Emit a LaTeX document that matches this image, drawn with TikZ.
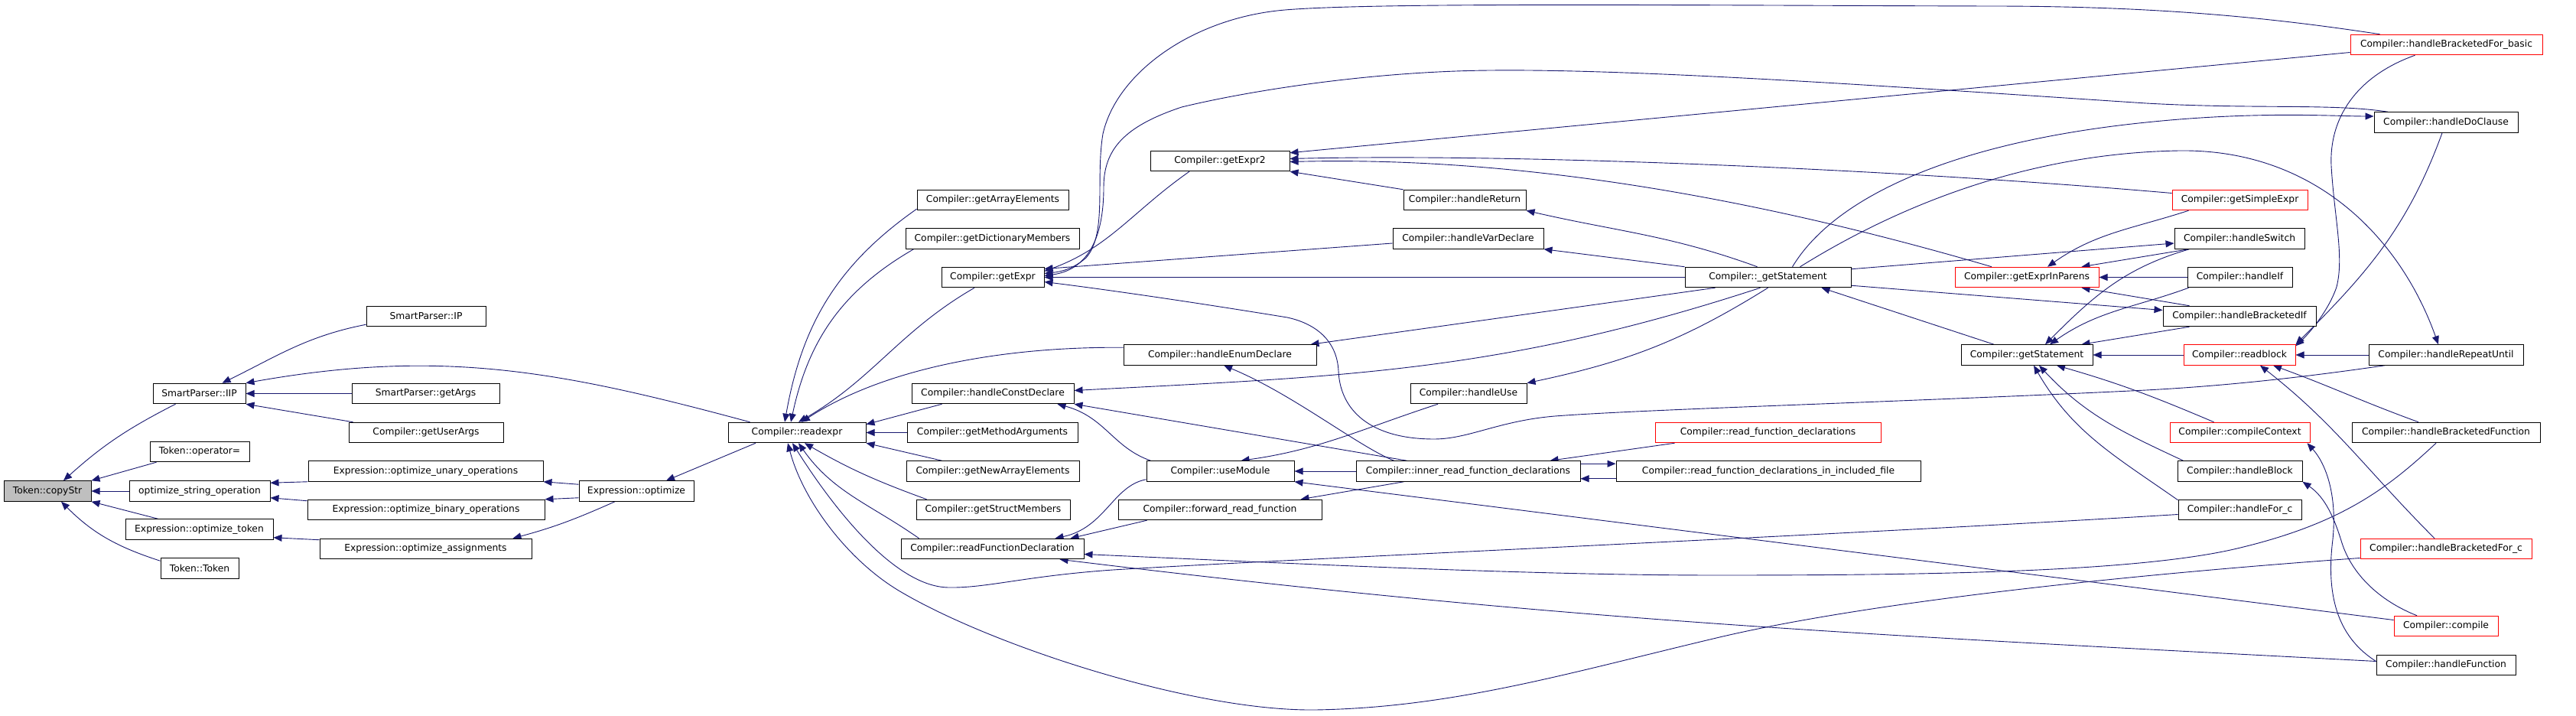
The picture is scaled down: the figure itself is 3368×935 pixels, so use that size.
\documentclass[tikz,border=0pt]{standalone}
\usepackage{fontspec}
\setmainfont{DejaVu Sans}
\usetikzlibrary{arrows.meta}
\pgfdeclarelayer{background}
\pgfsetlayers{background,main}
\definecolor{edgecol}{HTML}{191970}
\definecolor{rootfill}{HTML}{BFBFBF}
\begin{document}
\begin{tikzpicture}[x=1pt,y=1pt,
  fn/.style={draw=black, line width=1pt, inner sep=0pt, minimum height=26.5pt, fill=white,
             font=\fontsize{12.3}{14}\selectfont},
  fnred/.style={fn, draw=red},
  fnroot/.style={fn, fill=rootfill},
  conn/.style={draw=edgecol, line width=0.9pt, -{Triangle[length=11pt,width=9pt]}}]
\useasboundingbox (0,0) rectangle (3368,935);

% ---------------- nodes ----------------
\node[fnroot, minimum width=114pt] (copyStr) at (62,293) {Token::copyStr};
\node[fn, minimum width=121pt] (IIP) at (260.5,420.5) {SmartParser::IIP};
\node[fn, minimum width=130pt] (opEq) at (261,344.5) {Token::operator=};
\node[fn, minimum width=184pt] (optStr) at (261,293) {optimize\_string\_operation};
\node[fn, minimum width=193pt] (optTok) at (260.5,243) {Expression::optimize\_token};
\node[fn, minimum width=102pt] (tokTok) at (261,192) {Token::Token};
\node[fn, minimum width=156pt] (IP) at (557,521.5) {SmartParser::IP};
\node[fn, minimum width=193pt] (getArgs) at (556.5,420.5) {SmartParser::getArgs};
\node[fn, minimum width=202pt] (getUserArgs) at (557,369.5) {Compiler::getUserArgs};
\node[fn, minimum width=307pt] (unary) at (556.5,319) {Expression::optimize\_unary\_operations};
\node[fn, minimum width=310pt] (binary) at (557,268.5) {Expression::optimize\_binary\_operations};
\node[fn, minimum width=277pt] (assign) at (556.5,217.5) {Expression::optimize\_assignments};
\node[fn, minimum width=150pt] (optimize) at (832,293) {Expression::optimize};
\node[fn, minimum width=180pt] (readexpr) at (1042,369.5) {Compiler::readexpr};
\node[fn, minimum width=198pt] (getArrayElements) at (1298,673.5) {Compiler::getArrayElements};
\node[fn, minimum width=227pt] (getDictionaryMembers) at (1297.5,623) {Compiler::getDictionaryMembers};
\node[fn, minimum width=134pt] (getExpr) at (1298,572.5) {Compiler::getExpr};
\node[fn, minimum width=212pt] (handleConstDeclare) at (1298,420.5) {Compiler::handleConstDeclare};
\node[fn, minimum width=223pt] (getMethodArguments) at (1297.5,369.5) {Compiler::getMethodArguments};
\node[fn, minimum width=226pt] (getNewArrayElements) at (1298,319) {Compiler::getNewArrayElements};
\node[fn, minimum width=201pt] (getStructMembers) at (1298.5,268.5) {Compiler::getStructMembers};
\node[fn, minimum width=239pt] (readFunctionDeclaration) at (1297.5,217.5) {Compiler::readFunctionDeclaration};
\node[fn, minimum width=182pt] (getExpr2) at (1595,724.5) {Compiler::getExpr2};
\node[fn, minimum width=252pt] (handleEnumDeclare) at (1595,471) {Compiler::handleEnumDeclare};
\node[fn, minimum width=193pt] (useModule) at (1595.5,319) {Compiler::useModule};
\node[fn, minimum width=266pt] (forward) at (1595,268.5) {Compiler::forward\_read\_function};
\node[fn, minimum width=160pt] (handleReturn) at (1915,673.5) {Compiler::handleReturn};
\node[fn, minimum width=197pt] (handleVarDeclare) at (1919.5,623) {Compiler::handleVarDeclare};
\node[fn, minimum width=152pt] (handleUse) at (1920,420.5) {Compiler::handleUse};
\node[fn, minimum width=293pt] (inner) at (1919.5,319) {Compiler::inner\_read\_function\_declarations};
\node[fn, minimum width=217pt] (uGetStatement) at (2311.5,572.5) {Compiler::\_getStatement};
\node[fnred, minimum width=295pt] (readFD) at (2311.5,369.5) {Compiler::read\_function\_declarations};
\node[fn, minimum width=398pt] (inclFile) at (2312,319) {Compiler::read\_function\_declarations\_in\_included\_file};
\node[fnred, minimum width=188pt] (getExprInParens) at (2650,572.5) {Compiler::getExprInParens};
\node[fn, minimum width=172pt] (getStatement) at (2650,471) {Compiler::getStatement};
\node[fnred, minimum width=177pt] (getSimpleExpr) at (2928.5,673.5) {Compiler::getSimpleExpr};
\node[fn, minimum width=170pt] (handleSwitch) at (2928,623) {Compiler::handleSwitch};
\node[fn, minimum width=137pt] (handleIf) at (2928.5,572.5) {Compiler::handleIf};
\node[fn, minimum width=200pt] (handleBracketedIf) at (2928,521.5) {Compiler::handleBracketedIf};
\node[fnred, minimum width=146pt] (readblock) at (2928,471) {Compiler::readblock};
\node[fnred, minimum width=183pt] (compileContext) at (2928.5,369.5) {Compiler::compileContext};
\node[fn, minimum width=163pt] (handleBlock) at (2928.5,319) {Compiler::handleBlock};
\node[fn, minimum width=161pt] (handleForC) at (2928.5,268.5) {Compiler::handleFor\_c};
\node[fnred, minimum width=251pt] (basic) at (3198.5,876.5) {Compiler::handleBracketedFor\_basic};
\node[fn, minimum width=188pt] (handleDoClause) at (3198,775) {Compiler::handleDoClause};
\node[fn, minimum width=202pt] (handleRepeatUntil) at (3198,471) {Compiler::handleRepeatUntil};
\node[fn, minimum width=246pt] (handleBracketedFunction) at (3198,369.5) {Compiler::handleBracketedFunction};
\node[fnred, minimum width=224pt] (bracketedForC) at (3198,217.5) {Compiler::handleBracketedFor\_c};
\node[fnred, minimum width=136pt] (compile) at (3198,116.5) {Compiler::compile};
\node[fn, minimum width=182pt] (handleFunction) at (3198,65.5) {Compiler::handleFunction};

% ---------------- edges ----------------
\begin{pgfonlayer}{background}
% into Token::copyStr
\draw[conn] ([xshift=30pt]IIP.south west) to[out=207,in=42] ([xshift=21pt]copyStr.north);
\draw[conn] ([xshift=9pt]opEq.south west) -- (copyStr.north east);
\draw[conn] (optStr.west) -- (copyStr.east);
\draw[conn] ([xshift=43pt]optTok.north west) -- (copyStr.south east);
\draw[conn] ([yshift=-4pt]tokTok.north west) to[out=162,in=-45] ([xshift=18pt]copyStr.south);
% into SmartParser::IIP
\draw[conn] ([yshift=3pt]IP.south west) to[out=191,in=26] ([xshift=30pt]IIP.north);
\draw[conn] ([xshift=29pt]readexpr.north west) .. controls (733,450) and (578,480) .. (IIP.north east);
\draw[conn] (getArgs.west) -- (IIP.east);
\draw[conn] ([xshift=6pt]getUserArgs.north west) -- (IIP.south east);
% optimize chain
\draw[conn] (unary.south west) -- ([yshift=-3pt]optStr.north east);
\draw[conn] ([yshift=-2pt]binary.north west) -- ([yshift=5pt]optStr.south east);
\draw[conn] ([yshift=-2pt]assign.north west) -- ([yshift=3pt]optTok.south east);
\draw[conn] ([yshift=-5pt]optimize.north west) -- (unary.south east);
\draw[conn] ([yshift=5pt]optimize.south west) -- (binary.north east);
\draw[conn] ([xshift=-28pt]optimize.south) to[out=204,in=15] ([xshift=114pt]assign.north);
\draw[conn] ([xshift=-54pt]readexpr.south) -- ([xshift=39pt]optimize.north);
% into Compiler::readexpr
\draw[conn] ([yshift=2pt]getArrayElements.south west) to[out=215,in=80] ([xshift=-16pt]readexpr.north);
\draw[conn] ([xshift=11pt]getDictionaryMembers.south west) to[out=210,in=78] ([xshift=-8pt]readexpr.north);
\draw[conn] ([xshift=-24pt]getExpr.south) to[out=210,in=30] ([xshift=2pt]readexpr.north);
\draw[conn] ([yshift=-4pt]handleEnumDeclare.north west) .. controls (1300,482) and (1150,450) .. ([xshift=6pt]readexpr.north);
\draw[conn] ([xshift=40pt]handleConstDeclare.south west) -- ([yshift=-3pt]readexpr.north east);
\draw[conn] (getMethodArguments.west) -- (readexpr.east);
\draw[conn] ([xshift=47pt]getNewArrayElements.north west) -- (readexpr.south east);
\draw[conn] ([xshift=14pt]getStructMembers.north west) to[out=160,in=-30] ([xshift=10pt]readexpr.south);
\draw[conn] ([xshift=24pt]readFunctionDeclaration.north west) to[out=145,in=-55] ([xshift=2pt]readexpr.south);
\draw[conn] ([yshift=-6pt]handleForC.west) .. controls (2400,235) and (1700,205) .. (1455,190)
   .. controls (1340,182) and (1290,166) .. (1240,167) .. controls (1170,168) and (1090,270) .. ([xshift=-6pt]readexpr.south);
\draw[conn] ([yshift=-12pt]bracketedForC.west) .. controls (2800,185) and (2450,150) .. (2244,101)
   .. controls (2050,55) and (1900,10) .. (1720,7) .. controls (1560,5) and (1300,90) .. (1180,160)
   .. controls (1110,200) and (1050,280) .. ([xshift=-12pt]readexpr.south);
% into Compiler::getExpr
\draw[conn] ([xshift=39pt]basic.north west) .. controls (2950,915) and (2800,927) .. (2600,927)
   .. controls (2200,928) and (1800,932) .. (1680,922) .. controls (1560,912) and (1460,840) .. (1442,760)
   .. controls (1432,700) and (1448,630) .. (1420,598) .. controls (1405,585) and (1390,580) .. ([yshift=5pt]getExpr.east);
\draw[conn] ([xshift=-76pt]handleDoClause.north) .. controls (3050,800) and (2950,792) .. (2806,800)
   .. controls (2500,820) and (2150,845) .. (1950,843) .. controls (1800,842) and (1640,818) .. (1545,795)
   .. controls (1470,770) and (1443,740) .. (1443,690) .. controls (1443,620) and (1420,582) .. ([yshift=2pt]getExpr.east);
\draw[conn] ([xshift=-40pt]getExpr2.south) to[out=215,in=20] ([yshift=8pt]getExpr.east);
\draw[conn] ([yshift=-6pt]handleVarDeclare.west) -- ([yshift=11pt]getExpr.east);
\draw[conn] (uGetStatement.west) -- (getExpr.east);
\draw[conn] ([xshift=-80pt]handleRepeatUntil.south) .. controls (3000,440) and (2900,430) .. (2806,425)
   .. controls (2500,410) and (2150,400) .. (2033,391) .. controls (1960,385) and (1920,361) .. (1875,361)
   .. controls (1790,361) and (1752,400) .. (1750,450) .. controls (1748,490) and (1720,512) .. (1683,520)
   .. controls (1560,540) and (1450,556) .. ([yshift=-6pt]getExpr.east);
% into Compiler::getExpr2
\draw[conn] ([yshift=-10pt]basic.west) -- ([yshift=-3pt]getExpr2.north east);
\draw[conn] ([yshift=9pt]getSimpleExpr.west) .. controls (2500,712) and (2000,735) .. ([yshift=3pt]getExpr2.east);
\draw[conn] ([xshift=-46pt]getExprInParens.north) .. controls (2250,690) and (1950,730) .. ([yshift=-1pt]getExpr2.east);
\draw[conn] (handleReturn.north west) -- (getExpr2.south east);
% from Compiler::_getStatement
\draw[conn] ([xshift=-14pt]uGetStatement.north) to[out=160,in=-13] (handleReturn.south east);
\draw[conn] (uGetStatement.north west) -- (handleVarDeclare.south east);
\draw[conn] ([xshift=40pt]uGetStatement.south west) -- ([xshift=-8pt]handleEnumDeclare.north east);
\draw[conn] ([xshift=-10pt]uGetStatement.south) .. controls (1963,448) and (1758,443) .. ([yshift=4pt]handleConstDeclare.east);
\draw[conn] (uGetStatement.south) to[out=212,in=12] (handleUse.north east);
\draw[conn] ([xshift=32pt]uGetStatement.north) .. controls (2400,680) and (2560,750) .. (2806,775)
   .. controls (2950,790) and (3050,783) .. ([yshift=8pt]handleDoClause.west);
\draw[conn] ([xshift=42pt]uGetStatement.north) .. controls (2480,665) and (2650,735) .. (2850,738)
   .. controls (3030,740) and (3140,620) .. ([xshift=-10pt]handleRepeatUntil.north);
\draw[conn] ([yshift=-3pt]uGetStatement.north east) -- ([yshift=-6pt]handleSwitch.west);
\draw[conn] ([yshift=3pt]uGetStatement.south east) -- ([yshift=8pt]handleBracketedIf.west);
% inner / useModule / declarations
\draw[conn] ([xshift=50pt]inner.north west) .. controls (1775,352) and (1690,420) .. ([xshift=5pt]handleEnumDeclare.south);
\draw[conn] ([xshift=67pt]inner.north west) -- (handleConstDeclare.south east);
\draw[conn] ([xshift=6pt]useModule.north west) .. controls (1455,350) and (1445,390) .. ([xshift=-22pt]handleConstDeclare.south east);
\draw[conn] ([xshift=-40pt]handleUse.south) to[out=198,in=8] ([xshift=27pt]useModule.north);
\draw[conn] (inner.west) -- (useModule.east);
\draw[conn] ([yshift=8pt]compile.west) -- (useModule.south east);
\draw[conn] ([yshift=3pt]useModule.south west) .. controls (1455,300) and (1445,245) .. ([xshift=-38pt]readFunctionDeclaration.north east);
\draw[conn] ([xshift=38pt]forward.south west) -- ([xshift=-18pt]readFunctionDeclaration.north east);
\draw[conn] ([xshift=-13pt]handleBracketedFunction.south) .. controls (3120,295) and (3060,250) .. (2925,218)
   .. controls (2790,186) and (2500,183) .. (2244,183) .. controls (2000,183) and (1700,198) .. ([yshift=-7pt]readFunctionDeclaration.east);
\draw[conn] ([yshift=5pt]handleFunction.west) .. controls (2432,106) and (2056,122) .. ([xshift=-32pt]readFunctionDeclaration.south east);
\draw[conn] ([xshift=63pt]inner.south west) -- ([xshift=-28pt]forward.north east);
\draw[conn] ([xshift=26pt]readFD.south west) -- ([xshift=-40pt]inner.north east);
\draw[conn] ([yshift=4pt]inclFile.south west) -- ([yshift=4pt]inner.south east);
\draw[conn] ([yshift=-4pt]inner.north east) -- ([yshift=-4pt]inclFile.north west);
% getStatement / getExprInParens
\draw[conn] ([xshift=-43pt]getStatement.north) -- ([xshift=-39pt]uGetStatement.south east);
\draw[conn] ([xshift=22pt]getSimpleExpr.south west) to[out=198,in=35] ([xshift=27pt]getExprInParens.north);
\draw[conn] ([xshift=19pt]handleSwitch.south west) -- ([xshift=-23pt]getExprInParens.north east);
\draw[conn] (handleIf.west) -- (getExprInParens.east);
\draw[conn] ([xshift=35pt]handleBracketedIf.north west) -- ([xshift=-23pt]getExprInParens.south east);
\draw[conn] (readblock.west) -- (getStatement.east);
\draw[conn] ([xshift=20pt]handleSwitch.south west) to[out=196,in=45] ([xshift=24pt]getStatement.north);
\draw[conn] ([xshift=2pt]handleIf.south west) to[out=200,in=35] ([xshift=30pt]getStatement.north);
\draw[conn] ([xshift=35pt]handleBracketedIf.south west) -- ([xshift=-15pt]getStatement.north east);
\draw[conn] ([yshift=-1pt]handleForC.north west) to[out=145,in=-60] ([xshift=9pt]getStatement.south);
\draw[conn] ([xshift=8pt]handleBlock.north west) to[out=155,in=-47] ([xshift=16pt]getStatement.south);
\draw[conn] ([xshift=58pt]compileContext.north west) to[out=157,in=-16] ([xshift=39pt]getStatement.south);
% into Compiler::readblock
\draw[conn] (handleRepeatUntil.west) -- (readblock.east);
\draw[conn] ([xshift=-41pt]basic.south) .. controls (3080,835) and (3045,780) .. (3048,718)
   .. controls (3052,650) and (3065,600) .. (3055,560) .. controls (3045,530) and (3020,500) .. ([yshift=-2pt]readblock.north east);
\draw[conn] ([xshift=-5pt]handleDoClause.south) to[out=250,in=45] (readblock.north east);
\draw[conn] ([xshift=-15pt]bracketedForC.north) to[out=135,in=-38] ([xshift=27pt]readblock.south);
\draw[conn] ([xshift=-36pt]handleBracketedFunction.north) to[out=160,in=-20] ([xshift=44pt]readblock.south);
% compileContext / handleBlock
\draw[conn] ([yshift=5pt]handleFunction.west) .. controls (3060,100) and (3040,150) .. (3050,230)
   .. controls (3056,290) and (3040,330) .. ([xshift=-4pt]compileContext.south east);
\draw[conn] ([xshift=-38pt]compile.north) .. controls (3110,150) and (3075,185) .. (3062,225)
   .. controls (3052,258) and (3040,285) .. (handleBlock.south east);
\end{pgfonlayer}
\end{tikzpicture}
\end{document}
